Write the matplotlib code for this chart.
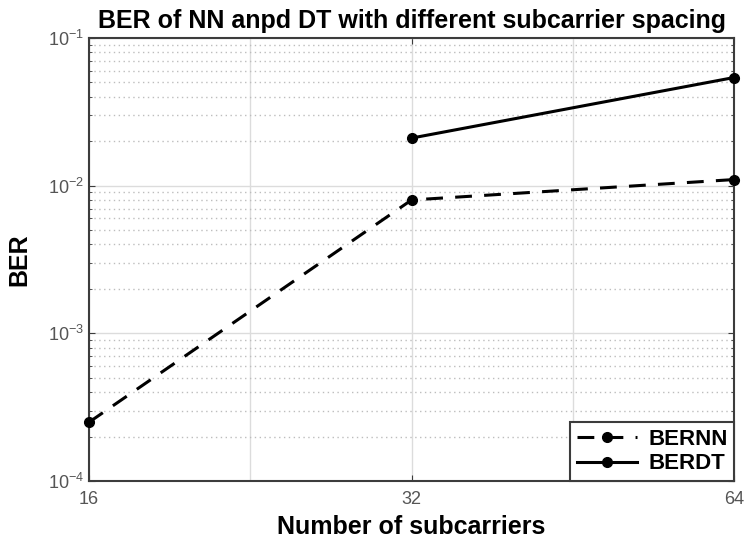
import numpy as np
import matplotlib.pyplot as plt
from matplotlib.ticker import FixedLocator, NullFormatter, LogLocator

plt.rcParams['font.family'] = ['Liberation Sans', 'DejaVu Sans']

subcarriers = [16, 32, 64]
ber_nn = [2.5e-4, 8.0e-3, 1.1e-2]
ber_dt = [np.nan, 2.1e-2, 5.4e-2]
tick_labels = ['16', '32', '64']

fig = plt.figure(figsize=(7.46, 5.39), dpi=100)
ax = fig.add_axes([0.1193, 0.1076, 0.8647, 0.8219])

ax.plot(subcarriers, ber_nn, 'k--', lw=2.2, marker='o', ms=7, dashes=(5.5, 4),
        label='BERNN', clip_on=False, zorder=5)
ax.plot(subcarriers, ber_dt, 'k-', lw=2.2, marker='o', ms=7,
        label='BERDT', clip_on=False, zorder=5)

ax.set_xscale('log', base=2)
ax.set_yscale('log')
ax.set_xlim(16, 64)
ax.set_ylim(1e-4, 1e-1)

ax.xaxis.set_major_locator(FixedLocator(subcarriers))
ax.set_xticklabels(tick_labels)
ax.xaxis.set_minor_locator(FixedLocator([16 * 2 ** 0.5, 32 * 2 ** 0.5]))
ax.xaxis.set_minor_formatter(NullFormatter())
ax.yaxis.set_major_locator(LogLocator(base=10, numticks=10))
ax.yaxis.set_minor_locator(LogLocator(base=10, subs=np.arange(2, 10), numticks=10))
ax.yaxis.set_minor_formatter(NullFormatter())

ax.grid(True, which='major', axis='both', color='#dcdcdc', lw=1.0, ls='-')
ax.grid(True, which='minor', axis='x', color='#dcdcdc', lw=1.0, ls='-')
ax.grid(True, which='minor', axis='y', color='#bdbdbd', lw=1.0, ls=(0, (1, 2.5)))
ax.set_axisbelow(True)

for s in ax.spines.values():
    s.set_color('#3c3c3c')
    s.set_linewidth(1.5)
ax.tick_params(which='both', direction='in', top=True, right=True, colors='#3c3c3c',
               labelcolor='#555555', labelsize=13)
ax.tick_params(which='major', length=4)
ax.tick_params(which='minor', length=2.5)
ax.tick_params(axis='x', which='minor', length=0)
ax.tick_params(axis='x', pad=7)

ax.set_title('BER of NN anpd DT with different subcarrier spacing', fontsize=18,
             fontweight='bold', pad=7)
ax.set_xlabel('Number of subcarriers', fontsize=18, fontweight='bold', labelpad=5)
ax.set_ylabel('BER', fontsize=18, fontweight='bold', labelpad=12)

leg = ax.legend(loc='lower right', borderaxespad=0, fancybox=False, framealpha=1,
                edgecolor='#3c3c3c', prop={'weight': 'bold', 'size': 16},
                handlelength=2.7, handletextpad=0.5, borderpad=0.3, labelspacing=0.15)
leg.get_frame().set_linewidth(1.5)

fig.savefig('out.png', dpi=100)
